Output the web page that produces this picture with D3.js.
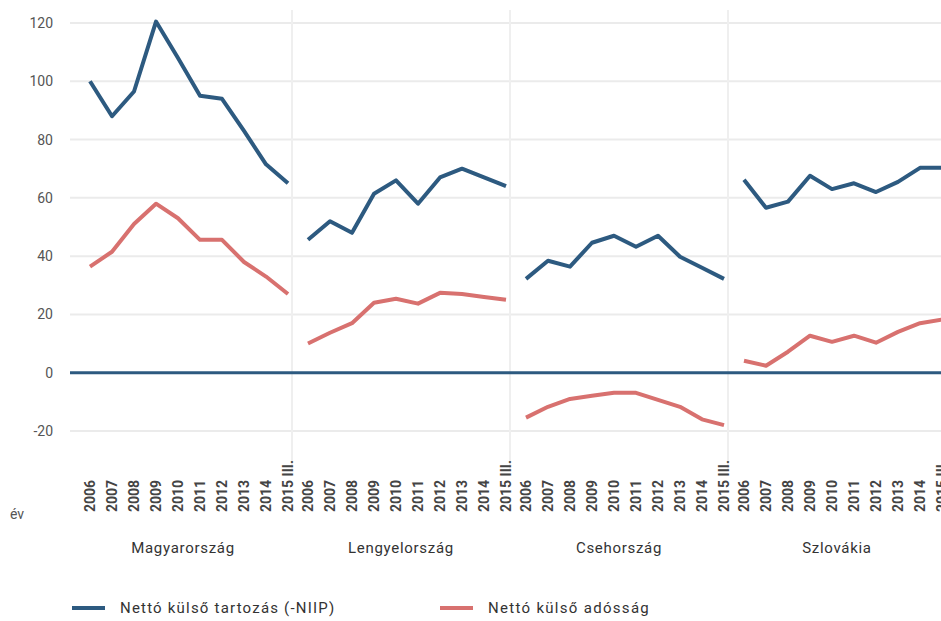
<!DOCTYPE html>
<html>
<head>
<meta charset="utf-8">
<script src="https://cdn.jsdelivr.net/npm/d3@7"></script>
<style>
  body { margin: 0; background: #fff; }
</style>
</head>
<body>
<div id="chart"></div>
<script>
const countries = ["Magyarország", "Lengyelország", "Csehország", "Szlovákia"];
const years = ["2006", "2007", "2008", "2009", "2010", "2011", "2012", "2013", "2014", "2015 III."];
const yTicks = [-20, 0, 20, 40, 60, 80, 100, 120];

// Nettó külső tartozás (-NIIP), % of GDP
const niipHU = [100, 88, 96.5, 120.5, 108, 95, 94, 83, 71.5, 65];
const niipPL = [45.6, 52, 48, 61.4, 66, 58, 67, 70, 67, 64];
const niipCZ = [32.2, 38.4, 36.4, 44.6, 47, 43.2, 47, 39.8, 36, 32.2];
const niipSK = [66.2, 56.6, 58.7, 67.6, 63, 65, 62, 65.5, 70.3, 70.3];

// Nettó külső adósság
const debtHU = [36.4, 41.5, 51, 58, 53, 45.6, 45.6, 38, 33, 27];
const debtPL = [10, 13.7, 17, 24, 25.4, 23.7, 27.4, 27, 26, 25];
const debtCZ = [-15.4, -11.7, -9, -7.9, -6.9, -6.9, -9.3, -11.7, -16, -18];
const debtSK = [4.1, 2.4, 7.2, 12.7, 10.6, 12.7, 10.3, 14, 17, 18.2];

const niip = [niipHU, niipPL, niipCZ, niipSK];
const debt = [debtHU, debtPL, debtCZ, debtSK];

const seriesNames = ["Nettó külső tartozás (-NIIP)", "Nettó külső adósság"];
const seriesColors = ["#2d5a80", "#d8716f"];

const width = 941;
const height = 621;
const font = "Roboto, sans-serif";

const svg = d3.select("#chart")
  .append("svg")
  .attr("width", width)
  .attr("height", height);

const y = d3.scaleLinear()
  .domain([-20, 120])
  .range([431, 23]);

const xPanel = d3.scaleBand()
  .domain(countries)
  .range([74, 74 + 218 * 4])
  .paddingInner(0)
  .paddingOuter(0);

const xYear = d3.scalePoint()
  .domain(years)
  .range([16, 214]);

// horizontal grid
svg.append("g")
  .selectAll("line")
  .data(yTicks.filter(d => d !== 0))
  .join("line")
  .attr("x1", 70)
  .attr("x2", width)
  .attr("y1", d => y(d))
  .attr("y2", d => y(d))
  .attr("stroke", "#ebebeb")
  .attr("stroke-width", 2);

// y labels
svg.append("g")
  .selectAll("text")
  .data(yTicks)
  .join("text")
  .attr("x", 53)
  .attr("y", d => y(d) + 5)
  .attr("text-anchor", "end")
  .attr("font-family", font)
  .attr("font-size", "14px")
  .attr("fill", "#555")
  .text(d => d);

// panel separators
svg.append("g")
  .selectAll("line")
  .data(countries.slice(1))
  .join("line")
  .attr("x1", d => xPanel(d))
  .attr("x2", d => xPanel(d))
  .attr("y1", 10)
  .attr("y2", 470)
  .attr("stroke", "#efefef")
  .attr("stroke-width", 2);

// zero line
svg.append("line")
  .attr("x1", 70)
  .attr("x2", width)
  .attr("y1", y(0))
  .attr("y2", y(0))
  .attr("stroke", "#2d5a80")
  .attr("stroke-width", 3);

const line = d3.line()
  .x(d => d[0])
  .y(d => y(d[1]));

countries.forEach((c, i) => {
  const x0 = xPanel(c);
  [debt[i], niip[i]].forEach((vals, k) => {
    const pts = vals.map((v, j) => [x0 + xYear(years[j]), v]);
    svg.append("path")
      .attr("d", line(pts))
      .attr("fill", "none")
      .attr("stroke", k === 0 ? seriesColors[1] : seriesColors[0])
      .attr("stroke-width", 4)
      .attr("stroke-linejoin", "round")
      .attr("stroke-linecap", "butt");
  });

  // year labels
  svg.append("g")
    .selectAll("text")
    .data(years)
    .join("text")
    .attr("transform", d => `translate(${x0 + xYear(d) + 5},512) rotate(-90)`)
    .attr("text-anchor", "start")
    .attr("font-family", "'Liberation Sans Narrow', 'Roboto', sans-serif")
    .attr("font-weight", "bold")
    .attr("font-size", "14px")
    .attr("fill", "#444")
    .text(d => d);

  // country label
  svg.append("text")
    .attr("x", x0 + xPanel.bandwidth() / 2)
    .attr("y", 553)
    .attr("text-anchor", "middle")
    .attr("font-family", font)
    .attr("font-size", "15px")
    .attr("letter-spacing", "0.7px")
    .attr("fill", "#333")
    .text(c);
});

svg.append("text")
  .attr("x", 10)
  .attr("y", 519)
  .attr("font-family", font)
  .attr("font-size", "14px")
  .attr("fill", "#555")
  .text("év");

// legend
const legend = svg.append("g");
[0, 1].forEach(k => {
  const lx = k === 0 ? 72 : 440;
  legend.append("line")
    .attr("x1", lx)
    .attr("x2", lx + 33)
    .attr("y1", 608)
    .attr("y2", 608)
    .attr("stroke", seriesColors[k])
    .attr("stroke-width", 4);
  legend.append("text")
    .attr("x", lx + 48)
    .attr("y", 613)
    .attr("font-family", font)
    .attr("font-size", "15px")
    .attr("letter-spacing", k === 0 ? "1.2px" : "1.3px")
    .attr("fill", "#333")
    .text(seriesNames[k]);
});
</script>
</body>
</html>
